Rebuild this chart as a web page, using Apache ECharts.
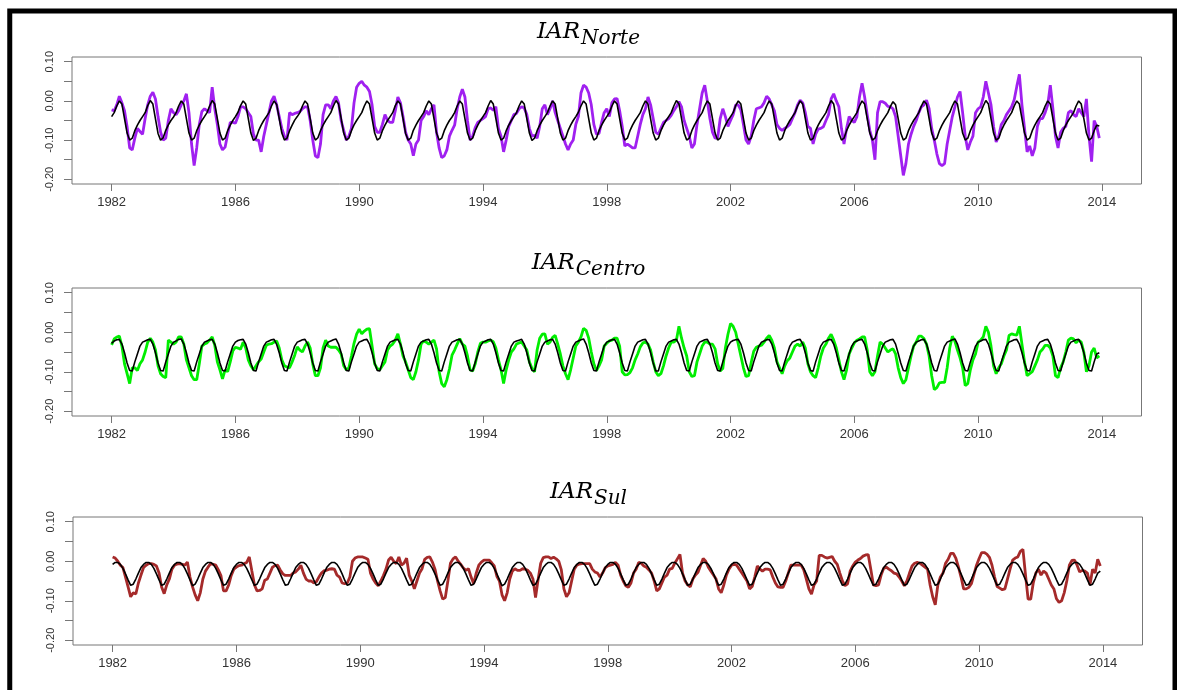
<!DOCTYPE html>
<html><head><meta charset="utf-8">
<script src="https://cdn.jsdelivr.net/npm/echarts@6/dist/echarts.min.js"></script>
<style>html,body{margin:0;padding:0;background:#fff}#c{width:1177px;height:690px}</style>
</head><body><div id="c"></div>
<script>
const years = [1982,1983,1984,1985,1986,1987,1988,1989,1990,1991,1992,1993,1994,1995,1996,1997,1998,1999,2000,2001,2002,2003,2004,2005,2006,2007,2008,2009,2010,2011,2012,2013];
const xTicks = [1982,1986,1990,1994,1998,2002,2006,2010,2014];
const yTicks = [-0.2,-0.15,-0.1,-0.05,0,0.05,0.1];
const yLabels = [-0.2,-0.1,0,0.1];
const titleMain = 'IAR';
const titleSubs = ['Norte','Centro','Sul'];

// monthly values, one row per year (Jan..Dec)
const norteObs = [
[-.023,-.025,-.01,.012,-.005,-.025,-.066,-.12,-.125,-.095,-.07,-.078],
[-.085,-.045,-.01,.012,.022,.005,-.04,-.08,-.1,-.095,-.05,-.02],
[-.03,-.035,-.025,-.01,0,.018,-.03,-.11,-.165,-.12,-.06,-.027],
[-.02,-.025,-.03,.035,-.02,-.06,-.11,-.125,-.118,-.085,-.055,-.055],
[-.057,-.04,-.015,-.015,-.02,-.03,-.04,-.085,-.1,-.1,-.13,-.09],
[-.06,-.03,0,.012,-.01,-.04,-.07,-.09,-.1,-.03,-.035,-.032],
[-.03,-.027,-.02,-.015,-.015,-.05,-.1,-.14,-.145,-.11,-.035,-.01],
[-.01,-.02,0,.011,-.005,-.05,-.075,-.1,-.09,-.07,-.005,.035],
[.045,.05,.04,.035,.024,-.01,-.065,-.08,-.08,-.06,-.035,-.05],
[-.055,-.055,-.025,.01,-.005,-.04,-.08,-.1,-.11,-.14,-.11,-.1],
[-.05,-.04,-.025,-.035,-.02,-.01,-.08,-.12,-.145,-.14,-.125,-.09],
[-.075,-.062,-.02,.01,.03,.01,-.05,-.1,-.09,-.068,-.055,-.05],
[-.045,-.04,-.02,-.018,-.024,-.015,-.07,-.09,-.13,-.1,-.065,-.05],
[-.035,-.032,-.02,-.015,-.018,-.035,-.07,-.09,-.088,-.095,-.065,-.02],
[-.01,-.035,-.02,0,-.03,-.05,-.07,-.09,-.11,-.125,-.11,-.1],
[-.06,-.04,.02,.04,.035,.02,-.01,-.06,-.085,-.083,-.055,-.03],
[-.02,-.04,-.005,.005,.006,-.025,-.065,-.115,-.11,-.115,-.12,-.12],
[-.09,-.06,-.035,-.02,.01,-.01,-.045,-.08,-.085,-.07,-.055,-.05],
[-.045,-.037,-.025,-.015,-.002,-.015,-.05,-.07,-.09,-.12,-.11,-.06],
[-.02,.02,.04,0,-.045,-.08,-.095,-.095,-.045,-.02,-.04,-.065],
[-.05,-.035,-.01,-.01,-.023,-.06,-.1,-.11,-.09,-.05,-.02,-.018],
[-.015,-.005,.012,.005,-.01,-.025,-.06,-.07,-.075,-.07,-.066,-.06],
[-.045,-.03,-.01,.002,-.005,-.03,-.065,-.07,-.11,-.085,-.072,-.07],
[-.066,-.05,-.035,.005,.018,0,-.015,-.07,-.11,-.07,-.04,-.05],
[-.055,-.04,.01,.045,.01,-.035,-.075,-.1,-.15,-.03,-.002,-.002],
[-.006,-.014,-.015,-.02,-.04,-.09,-.14,-.19,-.16,-.11,-.085,-.065],
[-.05,-.03,-.015,-.01,.002,-.02,-.07,-.1,-.135,-.16,-.165,-.16],
[-.11,-.075,-.04,-.015,.01,.024,-.03,-.09,-.125,-.105,-.09,-.03],
[-.02,-.015,.01,.05,.02,-.01,-.065,-.105,-.09,-.06,-.05,-.035],
[-.025,-.015,.003,.037,.068,-.01,-.07,-.13,-.115,-.14,-.12,-.065],
[-.045,-.045,-.03,-.01,.04,-.02,-.09,-.12,-.08,-.07,-.065,-.03],
[-.025,-.035,-.04,-.02,-.03,-.04,.005,-.09,-.155,-.05,-.065,-.095]
];
const norteFit = [
[-.04,-.03,-.013,0,-.008,-.045,-.082,-.1,-.095,-.076,-.062,-.05],
[-.04,-.03,-.012,.001,-.008,-.046,-.083,-.1,-.094,-.075,-.061,-.05],
[-.041,-.03,-.013,0,-.008,-.045,-.082,-.1,-.095,-.076,-.062,-.05],
[-.04,-.03,-.013,.001,-.008,-.045,-.082,-.1,-.095,-.076,-.062,-.05],
[-.04,-.029,-.012,0,-.008,-.045,-.082,-.101,-.095,-.076,-.062,-.05],
[-.04,-.03,-.013,0,-.009,-.045,-.082,-.1,-.095,-.076,-.062,-.049],
[-.04,-.03,-.013,0,-.008,-.045,-.082,-.1,-.094,-.076,-.062,-.05],
[-.04,-.03,-.013,.001,-.008,-.044,-.082,-.1,-.095,-.076,-.061,-.05],
[-.04,-.03,-.013,0,-.008,-.045,-.082,-.1,-.095,-.076,-.062,-.05],
[-.04,-.03,-.012,0,-.008,-.045,-.083,-.1,-.095,-.075,-.062,-.05],
[-.04,-.03,-.013,0,-.008,-.045,-.082,-.1,-.095,-.076,-.062,-.05],
[-.041,-.03,-.013,0,-.008,-.045,-.082,-.1,-.095,-.076,-.062,-.05],
[-.04,-.03,-.013,.001,-.008,-.045,-.082,-.1,-.095,-.076,-.062,-.05],
[-.04,-.03,-.013,0,-.008,-.045,-.082,-.101,-.095,-.076,-.062,-.05],
[-.04,-.03,-.013,0,-.008,-.045,-.082,-.1,-.095,-.076,-.062,-.05],
[-.04,-.029,-.013,0,-.008,-.045,-.082,-.1,-.095,-.076,-.062,-.05],
[-.04,-.03,-.013,0,-.008,-.045,-.082,-.1,-.095,-.076,-.062,-.05],
[-.04,-.03,-.013,0,-.008,-.046,-.082,-.1,-.095,-.076,-.062,-.05],
[-.04,-.03,-.013,.001,-.008,-.045,-.082,-.1,-.095,-.076,-.062,-.05],
[-.04,-.03,-.013,0,-.008,-.045,-.082,-.1,-.095,-.076,-.062,-.05],
[-.04,-.03,-.012,0,-.008,-.045,-.082,-.1,-.095,-.076,-.062,-.05],
[-.04,-.03,-.013,0,-.008,-.045,-.082,-.1,-.095,-.076,-.062,-.05],
[-.04,-.03,-.013,0,-.008,-.045,-.082,-.1,-.096,-.076,-.062,-.05],
[-.04,-.03,-.013,.001,-.008,-.045,-.082,-.1,-.095,-.076,-.062,-.05],
[-.04,-.03,-.013,0,-.008,-.045,-.082,-.1,-.095,-.076,-.062,-.05],
[-.04,-.03,-.014,-.002,-.01,-.045,-.082,-.1,-.095,-.076,-.062,-.05],
[-.04,-.03,-.013,0,-.008,-.045,-.082,-.1,-.095,-.076,-.062,-.05],
[-.04,-.03,-.013,0,-.008,-.045,-.082,-.1,-.095,-.076,-.062,-.05],
[-.04,-.03,-.013,.001,-.008,-.045,-.082,-.1,-.095,-.076,-.062,-.05],
[-.04,-.03,-.013,0,-.008,-.045,-.082,-.1,-.095,-.076,-.062,-.05],
[-.04,-.03,-.013,0,-.008,-.045,-.082,-.1,-.095,-.076,-.062,-.05],
[-.04,-.03,-.013,0,-.008,-.045,-.082,-.1,-.095,-.076,-.062,-.064]
];
const centroObs = [
[-.032,-.017,-.012,-.01,-.035,-.08,-.105,-.13,-.09,-.09,-.097,-.08],
[-.07,-.05,-.025,-.015,-.025,-.045,-.085,-.105,-.112,-.115,-.02,-.025],
[-.03,-.025,-.012,-.012,-.03,-.07,-.09,-.11,-.12,-.12,-.08,-.035],
[-.03,-.027,-.02,-.012,-.033,-.075,-.095,-.118,-.095,-.1,-.075,-.047],
[-.038,-.04,-.043,-.025,-.04,-.07,-.085,-.095,-.085,-.075,-.068,-.05],
[-.033,-.03,-.029,-.025,-.022,-.04,-.07,-.085,-.088,-.09,-.075,-.058],
[-.037,-.045,-.05,-.035,-.025,-.04,-.08,-.11,-.11,-.09,-.04,-.02],
[-.035,-.038,-.038,-.038,-.045,-.055,-.085,-.095,-.09,-.06,-.028,-.005],
[.008,-.004,.003,.008,.009,-.035,-.08,-.092,-.095,-.085,-.075,-.045],
[-.035,-.03,-.02,-.004,-.03,-.06,-.075,-.095,-.115,-.12,-.1,-.07],
[-.03,-.022,-.025,-.03,-.025,-.02,-.042,-.1,-.13,-.138,-.12,-.093],
[-.058,-.045,-.03,-.016,-.03,-.035,-.06,-.095,-.098,-.08,-.05,-.028],
[-.025,-.025,-.022,-.02,-.024,-.04,-.07,-.095,-.13,-.095,-.07,-.05],
[-.042,-.03,-.027,-.025,-.035,-.045,-.075,-.092,-.1,-.045,-.015,-.005],
[-.004,-.03,-.025,-.013,-.008,-.03,-.055,-.085,-.105,-.12,-.095,-.065],
[-.035,-.025,-.012,.01,.005,-.015,-.05,-.08,-.097,-.085,-.07,-.035],
[-.028,-.022,-.02,-.015,-.015,-.035,-.1,-.108,-.107,-.102,-.09,-.07],
[-.055,-.037,-.027,-.025,-.03,-.045,-.075,-.1,-.11,-.105,-.085,-.06],
[-.04,-.025,-.025,-.02,.015,-.015,-.04,-.06,-.1,-.112,-.11,-.075],
[-.055,-.035,-.025,-.025,-.03,-.03,-.042,-.08,-.098,-.092,-.04,-.005],
[.022,.015,0,-.03,-.06,-.09,-.112,-.11,-.077,-.048,-.038,-.035],
[-.033,-.025,-.015,-.008,-.02,-.04,-.075,-.09,-.105,-.085,-.072,-.065],
[-.05,-.035,-.03,-.035,-.025,-.04,-.08,-.1,-.11,-.115,-.09,-.06],
[-.04,-.03,-.015,-.005,-.02,-.04,-.07,-.1,-.12,-.095,-.055,-.04],
[-.027,-.02,-.017,-.012,-.012,-.045,-.1,-.11,-.1,-.06,-.025,-.03],
[-.04,-.05,-.045,-.042,-.055,-.09,-.115,-.13,-.12,-.09,-.06,-.035],
[-.025,-.01,-.01,-.016,-.03,-.06,-.11,-.145,-.14,-.128,-.127,-.127],
[-.09,-.04,-.01,-.023,-.045,-.065,-.09,-.135,-.13,-.095,-.07,-.055],
[-.025,-.02,-.012,.015,0,-.035,-.085,-.105,-.09,-.08,-.06,-.045],
[-.008,-.004,-.006,-.007,.015,-.03,-.075,-.11,-.105,-.1,-.085,-.07],
[-.05,-.043,-.033,-.033,-.04,-.06,-.11,-.115,-.09,-.075,-.05,-.02],
[-.015,-.017,-.027,-.02,-.025,-.05,-.1,-.085,-.05,-.04,-.065,-.06]
];
const centroFit = [
[-.028,-.022,-.019,-.018,-.03,-.052,-.078,-.097,-.098,-.075,-.055,-.035],
[-.025,-.022,-.019,-.018,-.03,-.052,-.078,-.097,-.098,-.075,-.055,-.035],
[-.025,-.022,-.018,-.017,-.03,-.052,-.078,-.097,-.098,-.075,-.055,-.035],
[-.025,-.022,-.019,-.018,-.03,-.052,-.078,-.097,-.098,-.075,-.055,-.035],
[-.025,-.021,-.019,-.018,-.03,-.052,-.078,-.097,-.098,-.075,-.055,-.035],
[-.025,-.022,-.019,-.018,-.031,-.052,-.078,-.097,-.098,-.075,-.055,-.035],
[-.025,-.022,-.019,-.018,-.03,-.052,-.078,-.097,-.098,-.075,-.055,-.035],
[-.025,-.022,-.019,-.017,-.03,-.052,-.078,-.097,-.098,-.075,-.055,-.035],
[-.025,-.022,-.019,-.018,-.03,-.052,-.078,-.097,-.098,-.075,-.055,-.035],
[-.025,-.022,-.019,-.018,-.03,-.052,-.079,-.097,-.098,-.075,-.055,-.035],
[-.025,-.022,-.019,-.018,-.03,-.052,-.078,-.097,-.098,-.075,-.055,-.035],
[-.025,-.022,-.019,-.018,-.03,-.052,-.078,-.097,-.098,-.076,-.055,-.035],
[-.025,-.022,-.019,-.018,-.03,-.052,-.078,-.097,-.098,-.075,-.055,-.035],
[-.025,-.022,-.02,-.018,-.03,-.052,-.078,-.097,-.098,-.075,-.055,-.035],
[-.025,-.022,-.019,-.018,-.03,-.052,-.078,-.097,-.098,-.075,-.055,-.035],
[-.025,-.022,-.019,-.017,-.03,-.052,-.078,-.097,-.098,-.075,-.055,-.035],
[-.025,-.022,-.019,-.018,-.03,-.052,-.078,-.097,-.098,-.075,-.055,-.035],
[-.025,-.022,-.019,-.018,-.03,-.052,-.078,-.098,-.098,-.075,-.055,-.035],
[-.025,-.022,-.019,-.018,-.03,-.052,-.078,-.097,-.098,-.075,-.055,-.035],
[-.025,-.022,-.019,-.018,-.03,-.052,-.078,-.097,-.098,-.075,-.055,-.035],
[-.025,-.021,-.019,-.018,-.03,-.052,-.078,-.097,-.098,-.075,-.055,-.035],
[-.025,-.022,-.019,-.018,-.03,-.052,-.078,-.097,-.098,-.075,-.055,-.035],
[-.025,-.022,-.019,-.018,-.03,-.052,-.078,-.097,-.099,-.075,-.055,-.035],
[-.025,-.022,-.019,-.018,-.03,-.052,-.078,-.097,-.098,-.075,-.055,-.035],
[-.025,-.022,-.019,-.018,-.03,-.052,-.078,-.097,-.098,-.075,-.055,-.035],
[-.025,-.022,-.019,-.018,-.03,-.053,-.078,-.097,-.098,-.075,-.055,-.035],
[-.025,-.022,-.019,-.018,-.03,-.052,-.078,-.097,-.098,-.075,-.055,-.035],
[-.025,-.022,-.019,-.017,-.03,-.052,-.078,-.097,-.098,-.075,-.055,-.035],
[-.025,-.022,-.019,-.018,-.03,-.052,-.078,-.097,-.098,-.075,-.055,-.035],
[-.025,-.022,-.019,-.018,-.03,-.052,-.078,-.097,-.098,-.075,-.055,-.035],
[-.025,-.022,-.019,-.018,-.03,-.052,-.078,-.097,-.098,-.075,-.055,-.035],
[-.025,-.022,-.019,-.018,-.03,-.052,-.078,-.097,-.098,-.075,-.055,-.052]
];
const sulObs = [
[.011,.008,0,-.01,-.016,-.04,-.065,-.09,-.08,-.083,-.055,-.035],
[-.016,-.01,-.006,-.006,-.008,-.012,-.03,-.065,-.082,-.06,-.045,-.02],
[-.01,-.007,-.006,-.008,-.01,-.002,-.04,-.065,-.085,-.1,-.08,-.045],
[-.025,-.015,-.006,-.008,-.01,-.022,-.036,-.075,-.075,-.06,-.036,-.02],
[-.015,-.011,-.01,-.006,-.003,.011,-.025,-.06,-.075,-.074,-.07,-.048],
[-.045,-.03,-.015,-.011,-.01,-.022,-.032,-.036,-.036,-.036,-.03,-.027],
[-.02,-.01,-.03,-.045,-.05,-.05,-.055,-.052,-.04,-.03,-.024,-.023],
[-.02,-.019,-.02,-.035,-.04,-.055,-.057,-.055,-.04,0,.008,.011],
[.011,.011,.008,.005,-.03,-.045,-.055,-.062,-.05,-.036,-.02,.003],
[.01,0,-.006,.011,-.01,-.005,.008,-.035,-.05,-.07,-.05,-.03],
[-.019,.005,.01,.011,-.002,-.02,-.05,-.075,-.096,-.092,-.05,-.005],
[.006,.011,0,-.008,-.017,-.023,-.019,-.04,-.057,-.03,-.01,-.002],
[.003,.003,.003,-.004,-.012,-.038,-.05,-.085,-.1,-.08,-.045,-.025],
[-.019,-.023,-.023,-.019,-.02,-.023,-.03,-.045,-.092,-.046,-.005,.009],
[.011,.011,.007,.01,.006,0,-.022,-.07,-.09,-.08,-.05,-.02],
[-.01,-.007,-.006,-.006,-.006,-.006,-.02,-.027,-.03,-.04,-.03,-.017],
[-.012,-.01,-.008,-.003,-.01,-.035,-.05,-.062,-.066,-.055,-.03,-.02],
[-.003,-.005,-.012,-.015,-.022,-.03,-.05,-.075,-.07,-.055,-.04,-.035],
[-.02,-.018,-.005,.006,.017,-.03,-.05,-.06,-.065,-.045,-.035,-.028],
[-.01,.007,0,-.015,-.025,-.035,-.045,-.07,-.08,-.06,-.035,-.02],
[-.01,-.008,-.01,-.02,-.03,-.04,-.05,-.07,-.064,-.04,-.012,-.02],
[-.025,-.02,-.02,-.022,-.04,-.055,-.065,-.066,-.066,-.05,-.03,-.01],
[-.01,-.01,-.01,-.01,-.022,-.045,-.07,-.083,-.06,-.05,.015,.015],
[.011,.008,.01,.012,0,-.008,-.03,-.05,-.062,-.057,-.025,-.012],
[-.002,.003,.007,.013,.016,.017,-.02,-.06,-.062,-.06,-.035,-.018],
[-.015,-.02,-.024,-.03,-.032,-.04,-.05,-.062,-.05,-.03,-.012,-.005],
[-.003,-.005,-.01,-.015,-.02,-.06,-.09,-.11,-.06,-.04,-.03,-.005],
[.005,.02,.02,.007,-.015,-.04,-.07,-.07,-.066,-.057,-.033,-.01],
[.007,.022,.022,.018,.01,-.01,-.04,-.064,-.068,-.072,-.07,-.045],
[-.02,.003,.008,.011,.025,.03,-.035,-.096,-.096,-.055,-.03,-.02],
[-.035,-.025,-.03,-.045,-.06,-.07,-.095,-.104,-.1,-.08,-.05,-.01],
[.002,.003,-.01,-.027,-.023,-.025,-.03,-.06,-.02,-.03,.005,-.012]
];
const sulFit = [
[-.008,-.003,-.003,-.008,-.018,-.032,-.047,-.061,-.058,-.045,-.03,-.016],
[-.008,-.003,-.003,-.008,-.018,-.032,-.047,-.061,-.058,-.045,-.03,-.016],
[-.008,-.003,-.003,-.008,-.018,-.032,-.047,-.062,-.058,-.045,-.03,-.016],
[-.008,-.003,-.003,-.008,-.018,-.032,-.047,-.061,-.058,-.045,-.03,-.016],
[-.008,-.003,-.003,-.008,-.018,-.032,-.047,-.061,-.058,-.045,-.03,-.016],
[-.008,-.003,-.003,-.008,-.018,-.032,-.047,-.061,-.059,-.045,-.03,-.016],
[-.008,-.003,-.003,-.008,-.018,-.032,-.047,-.061,-.058,-.045,-.03,-.016],
[-.008,-.003,-.003,-.008,-.018,-.032,-.048,-.061,-.058,-.045,-.03,-.016],
[-.008,-.003,-.003,-.008,-.018,-.032,-.047,-.061,-.058,-.045,-.03,-.016],
[-.008,-.003,-.003,-.008,-.018,-.032,-.047,-.061,-.058,-.045,-.03,-.016],
[-.008,-.003,-.003,-.008,-.018,-.032,-.047,-.061,-.058,-.045,-.03,-.016],
[-.008,-.003,-.003,-.008,-.018,-.032,-.047,-.061,-.058,-.045,-.03,-.016],
[-.008,-.003,-.003,-.008,-.018,-.032,-.047,-.062,-.058,-.045,-.03,-.016],
[-.008,-.003,-.003,-.008,-.018,-.032,-.047,-.061,-.058,-.045,-.03,-.016],
[-.008,-.003,-.003,-.008,-.018,-.032,-.047,-.061,-.058,-.045,-.03,-.016],
[-.008,-.003,-.003,-.008,-.018,-.032,-.047,-.061,-.058,-.045,-.03,-.016],
[-.008,-.003,-.003,-.008,-.018,-.032,-.047,-.061,-.058,-.045,-.03,-.016],
[-.008,-.003,-.003,-.008,-.018,-.032,-.047,-.061,-.058,-.045,-.03,-.016],
[-.008,-.003,-.003,-.008,-.018,-.032,-.047,-.061,-.058,-.045,-.03,-.016],
[-.008,-.003,-.003,-.008,-.018,-.032,-.047,-.061,-.058,-.045,-.03,-.016],
[-.008,-.003,-.003,-.008,-.018,-.032,-.047,-.061,-.058,-.045,-.03,-.016],
[-.008,-.003,-.003,-.008,-.018,-.032,-.047,-.061,-.058,-.045,-.03,-.016],
[-.008,-.003,-.003,-.008,-.018,-.032,-.047,-.061,-.058,-.045,-.03,-.016],
[-.008,-.003,-.003,-.008,-.018,-.032,-.047,-.061,-.058,-.045,-.03,-.016],
[-.008,-.003,-.003,-.008,-.018,-.032,-.047,-.061,-.058,-.045,-.03,-.016],
[-.008,-.003,-.003,-.008,-.018,-.032,-.047,-.061,-.058,-.045,-.03,-.016],
[-.008,-.003,-.003,-.008,-.018,-.032,-.047,-.061,-.058,-.045,-.03,-.016],
[-.008,-.003,-.003,-.008,-.018,-.032,-.047,-.061,-.058,-.045,-.03,-.016],
[-.008,-.003,-.003,-.008,-.018,-.032,-.047,-.061,-.058,-.045,-.03,-.016],
[-.008,-.003,-.003,-.008,-.018,-.032,-.047,-.061,-.058,-.045,-.03,-.016],
[-.008,-.003,-.003,-.008,-.018,-.032,-.047,-.061,-.058,-.045,-.03,-.016],
[-.008,-.003,-.003,-.008,-.018,-.032,-.047,-.061,-.058,-.045,-.03,-.025]
];

function toPoints(rows) {
  const out = [];
  rows.forEach((row, i) => row.forEach((v, m) => out.push([years[i] + m / 12, v])));
  return out;
}

const gridBoxes = [
  {left: 72, right: 35.5, top: 57, height: 127},
  {left: 72, right: 35.5, top: 288, height: 128},
  {left: 73, right: 34.5, top: 517, height: 128}
];
const titleTops = [21, 252, 481];
const obsColors = ['#A020F0', '#00EE00', '#A52A2A'];
const obsData = [norteObs, centroObs, sulObs];
const fitData = [norteFit, centroFit, sulFit];

const axisGray = '#777';
const option = {
  animation: false,
  backgroundColor: '#fff',
  title: titleSubs.map((s, i) => ({
    left: 'center', top: titleTops[i], padding: 0,
    text: '{a|' + titleMain + '}{b|' + s + '}',
    textStyle: {
      fontWeight: 'normal',
      rich: {
        a: {fontFamily: 'DejaVu Serif', fontStyle: 'italic', fontWeight: 'normal', fontSize: 23, color: '#000', lineHeight: 26, verticalAlign: 'top'},
        b: {fontFamily: 'DejaVu Serif', fontStyle: 'italic', fontWeight: 'normal', fontSize: 20, color: '#000', lineHeight: 22, padding: [8, 0, 0, 1], verticalAlign: 'top'}
      }
    }
  })),
  grid: gridBoxes.map(g => Object.assign({show: true, borderColor: axisGray, borderWidth: 1, backgroundColor: 'transparent', containLabel: false}, g)),
  xAxis: gridBoxes.map((g, i) => ({
    gridIndex: i, type: 'value', min: 1980.72, max: 2015.28,
    axisLine: {show: false, onZero: false},
    splitLine: {show: false},
    axisTick: {show: true, length: 7, lineStyle: {color: axisGray}, customValues: xTicks},
    axisLabel: {customValues: xTicks, margin: 12, fontSize: 13, color: '#333', fontFamily: 'Liberation Sans', formatter: v => String(v)}
  })),
  yAxis: gridBoxes.map((g, i) => ({
    gridIndex: i, type: 'value', min: -0.212, max: 0.112,
    axisLine: {show: false, onZero: false},
    splitLine: {show: false},
    axisTick: {show: true, length: 8, lineStyle: {color: axisGray}, customValues: yTicks},
    axisLabel: {customValues: yLabels, rotate: 90, margin: 17, fontSize: 11, color: '#333', fontFamily: 'Liberation Sans', formatter: v => v.toFixed(2)}
  })),
  series: [].concat(...[0, 1, 2].map(i => [
    {type: 'line', xAxisIndex: i, yAxisIndex: i, data: toPoints(obsData[i]), symbol: 'none', silent: true, z: 2,
     lineStyle: {color: obsColors[i], width: 2.8}},
    {type: 'line', xAxisIndex: i, yAxisIndex: i, data: toPoints(fitData[i]), symbol: 'none', silent: true, z: 3,
     lineStyle: {color: '#000', width: 1.6}}
  ])),
  graphic: [{type: 'rect', silent: true, z: 100, shape: {x: 9.75, y: 11, width: 1165.25, height: 800},
    style: {fill: 'none', stroke: '#000', lineWidth: 5}}]
};
const chart = echarts.init(document.getElementById('c'), null, {renderer: 'canvas'});
chart.setOption(option);
</script>
</body></html>
